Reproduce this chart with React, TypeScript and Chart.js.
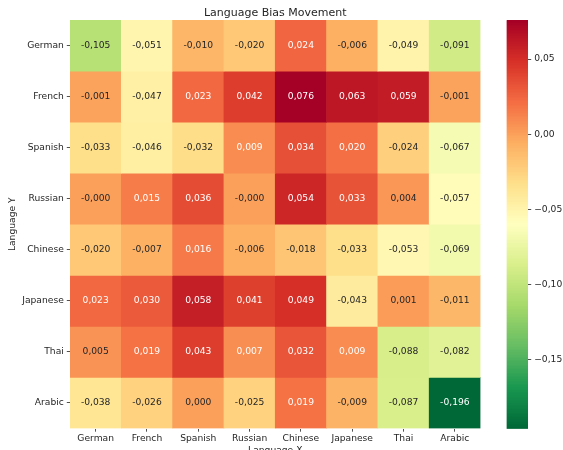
import React, { useEffect, useRef } from "react";
import { Chart, registerables } from "chart.js";

Chart.register(...registerables);

const xLabels = ["German", "French", "Spanish", "Russian", "Chinese", "Japanese", "Thai", "Arabic"];
const yLabels = ["German", "French", "Spanish", "Russian", "Chinese", "Japanese", "Thai", "Arabic"];

const rowGerman = [-0.105, -0.051, -0.010, -0.020, 0.024, -0.006, -0.049, -0.091];
const rowFrench = [-0.001, -0.047, 0.023, 0.042, 0.076, 0.063, 0.059, -0.001];
const rowSpanish = [-0.033, -0.046, -0.032, 0.009, 0.034, 0.020, -0.024, -0.067];
const rowRussian = [-0.0002, 0.015, 0.036, -0.0002, 0.054, 0.033, 0.004, -0.057];
const rowChinese = [-0.020, -0.007, 0.016, -0.006, -0.018, -0.033, -0.053, -0.069];
const rowJapanese = [0.023, 0.030, 0.058, 0.041, 0.049, -0.043, 0.001, -0.011];
const rowThai = [0.005, 0.019, 0.043, 0.007, 0.032, 0.009, -0.088, -0.082];
const rowArabic = [-0.038, -0.026, 0.000, -0.025, 0.019, -0.009, -0.087, -0.196];

const matrix = [rowGerman, rowFrench, rowSpanish, rowRussian, rowChinese, rowJapanese, rowThai, rowArabic];

const colorbarTicks = [-0.15, -0.1, -0.05, 0, 0.05];

const TITLE = "Language Bias Movement";
const X_TITLE = "Language X";
const Y_TITLE = "Language Y";

const FONT = "'DejaVu Sans', sans-serif";
const TEXT = "#262626";
const FS = 9.17;

const VMIN = Math.min(...matrix.flat());
const VMAX = Math.max(...matrix.flat());

// RdYlGn stops (ColorBrewer)
const STOPS: number[][] = [
  [165, 0, 38], [215, 48, 39], [244, 109, 67], [253, 174, 97], [254, 224, 139],
  [255, 255, 191], [217, 239, 139], [166, 217, 106], [102, 189, 99], [26, 152, 80], [0, 104, 55],
];

function cmapRGB(v: number): number[] {
  let t = (v - VMIN) / (VMAX - VMIN);
  t = Math.max(0, Math.min(1, t));
  const idx = Math.min(255, Math.floor(t * 256));
  const x = idx / 255;
  const p = (1 - x) * 10; // reversed
  const i = Math.min(9, Math.floor(p));
  const f = p - i;
  const a = STOPS[i], b = STOPS[i + 1];
  return [0, 1, 2].map((k) => a[k] + (b[k] - a[k]) * f);
}
function rgbStr(c: number[]) {
  return `rgb(${Math.round(c[0])},${Math.round(c[1])},${Math.round(c[2])})`;
}
function lum(c: number[]) {
  const lin = c.map((v) => {
    const s = v / 255;
    return s <= 0.03928 ? s / 12.92 : Math.pow((s + 0.055) / 1.055, 2.4);
  });
  return 0.2126 * lin[0] + 0.7152 * lin[1] + 0.0722 * lin[2];
}
function fmtCell(v: number) {
  return v.toFixed(3).replace(".", ",");
}
function fmtBar(v: number) {
  const s = Math.abs(v).toFixed(2).replace(".", ",");
  return (v < -1e-9 ? "\u2212" : "") + s;
}

const heatPlugin = {
  id: "heatText",
  afterDatasetsDraw(chart: any) {
    const ctx = chart.ctx;
    const xs = chart.scales.x;
    const ys = chart.scales.y;
    ctx.save();
    ctx.font = `${FS}px ${FONT}`;
    ctx.textAlign = "center";
    ctx.textBaseline = "middle";
    matrix.forEach((row, r) => {
      row.forEach((v, c) => {
        const col = cmapRGB(v);
        ctx.fillStyle = lum(col) > 0.408 ? TEXT : "#ffffff";
        ctx.fillText(fmtCell(v), xs.getPixelForValue(c), ys.getPixelForValue(r));
      });
    });
    ctx.restore();
  },
  afterDraw(chart: any) {
    const ctx = chart.ctx;
    const a = chart.chartArea;
    const cx = (a.left + a.right) / 2;
    const cy = (a.top + a.bottom) / 2;
    ctx.save();
    ctx.fillStyle = TEXT;
    ctx.textAlign = "center";
    ctx.textBaseline = "alphabetic";
    ctx.font = `11px ${FONT}`;
    ctx.fillText(TITLE, cx, 15.5);
    ctx.font = `${FS}px ${FONT}`;
    ctx.textBaseline = "top";
    ctx.fillText(X_TITLE, cx, 446);
    ctx.translate(13, cy);
    ctx.rotate(-Math.PI / 2);
    ctx.textBaseline = "middle";
    ctx.fillText(Y_TITLE, 0, 0);
    ctx.restore();
  },
};

const gradPlugin = {
  id: "cbGrad",
  beforeDatasetsDraw(chart: any) {
    const ctx = chart.ctx;
    const a = chart.chartArea;
    const ys = chart.scales.y;
    ctx.save();
    for (let y = Math.floor(a.top); y < Math.ceil(a.bottom); y++) {
      const top = Math.max(y, a.top);
      const bot = Math.min(y + 1, a.bottom);
      const v = ys.getValueForPixel((top + bot) / 2);
      ctx.fillStyle = rgbStr(cmapRGB(v));
      ctx.fillRect(a.left, top, a.right - a.left, bot - top + 0.3);
    }
    ctx.restore();
  },
};

export default function App() {
  const mainRef = useRef<HTMLCanvasElement>(null);
  const cbRef = useRef<HTMLCanvasElement>(null);

  useEffect(() => {
    const datasets = matrix.map((row, r) => ({
      label: yLabels[r],
      data: row.map(() => [r - 0.5, r + 0.5]),
      backgroundColor: row.map((v) => rgbStr(cmapRGB(v))),
      borderWidth: 0,
      grouped: false,
      barPercentage: 1,
      categoryPercentage: 1,
    }));

    const main = new Chart(mainRef.current!, {
      type: "bar",
      data: { labels: xLabels, datasets: datasets as any },
      plugins: [heatPlugin],
      options: {
        animation: false,
        responsive: false,
        layout: { padding: { top: 20, right: 82.5, bottom: 0, left: 0 } },
        plugins: { legend: { display: false }, tooltip: { enabled: false }, title: { display: false } },
        scales: {
          x: {
            type: "category",
            offset: true,
            grid: { offset: false, drawOnChartArea: false, drawTicks: true, tickLength: 3.2, color: TEXT, lineWidth: 0.8 },
            border: { display: false },
            ticks: { font: { family: FONT, size: FS }, color: TEXT, padding: 1.5, maxRotation: 0, autoSkip: false },
            afterFit: (s: any) => { s.height = 21.5; },
          },
          y: {
            type: "linear",
            reverse: true,
            min: -0.5,
            max: 7.5,
            afterBuildTicks: (s: any) => { s.ticks = yLabels.map((_, i) => ({ value: i })); },
            grid: { drawOnChartArea: false, drawTicks: true, tickLength: 3.2, color: TEXT, lineWidth: 0.8 },
            border: { display: false },
            ticks: {
              font: { family: FONT, size: FS }, color: TEXT, padding: 3, autoSkip: false,
              callback: (v: any) => yLabels[Number(v)] ?? "",
            },
            afterFit: (s: any) => { s.width = 70; },
          },
        },
      } as any,
    });

    const cb = new Chart(cbRef.current!, {
      type: "scatter",
      data: { datasets: [] },
      plugins: [gradPlugin],
      options: {
        animation: false,
        responsive: false,
        layout: { padding: { top: 20, right: 0, bottom: 21.5, left: 16.7 } },
        plugins: { legend: { display: false }, tooltip: { enabled: false } },
        scales: {
          x: { display: false, min: 0, max: 1 },
          y: {
            type: "linear",
            position: "right",
            min: VMIN,
            max: VMAX,
            afterBuildTicks: (s: any) => { s.ticks = colorbarTicks.map((v) => ({ value: v })); },
            grid: { drawOnChartArea: false, drawTicks: true, tickLength: 3.2, color: TEXT, lineWidth: 0.8 },
            border: { display: false },
            ticks: {
              font: { family: FONT, size: FS }, color: TEXT, padding: 3, autoSkip: false,
              callback: (v: any) => fmtBar(Number(v)),
            },
            afterFit: (s: any) => { s.width = 35; },
          },
        },
      } as any,
    });

    return () => {
      main.destroy();
      cb.destroy();
    };
  }, []);

  return (
    <div style={{ position: "fixed", left: 0, top: 0, width: 563, height: 450, background: "#fff" }}>
      <canvas ref={mainRef} width={563} height={450} style={{ position: "absolute", left: 0, top: 0 }} />
      <canvas ref={cbRef} width={73} height={450} style={{ position: "absolute", left: 490, top: 0 }} />
    </div>
  );
}
